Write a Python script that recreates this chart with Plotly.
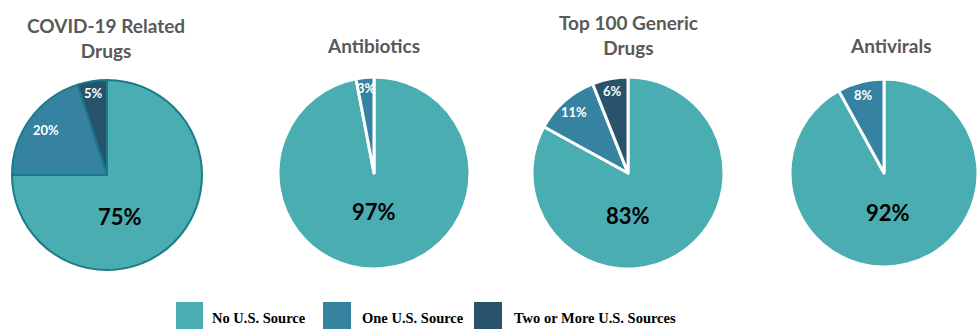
import math
import plotly.graph_objects as go

# ---------------- data ----------------
categories = ["No U.S. Source", "One U.S. Source", "Two or More U.S. Sources"]
chart_titles = ["COVID-19 Related<br>Drugs", "Antibiotics", "Top 100 Generic<br>Drugs", "Antivirals"]
covid_values = [75, 20, 5]
antibiotics_values = [97, 3]
generic_values = [83, 11, 6]
antiviral_values = [92, 8]

# ---------------- styles ----------------
W, H = 978, 329
colors = ["#4aadb1", "#3583a0", "#29536a"]
title_font = dict(family="Lato", size=19, color="#595959", weight="bold")
big_font = 22
small_font = 13

# pie geometry in pixels: (cx, cy, r)
geoms = [(107, 175, 95), (374, 173, 96), (628, 173, 96), (884, 173, 94)]
title_pos = [(106, 38), (373, 45), (628, 35), (891, 46)]
# offset of the large label from pie centre (pixels)
big_offsets = [(13, 41), (0, 38), (0, 42), (4, 40)]
line_styles = [dict(color="#1b7b88", width=2), dict(color="white", width=3),
               dict(color="white", width=3), dict(color="white", width=3)]

series = [covid_values, antibiotics_values, generic_values, antiviral_values]


def dom(cx, cy, r):
    return dict(x=[(cx - r) / W, (cx + r) / W], y=[1 - (cy + r) / H, 1 - (cy - r) / H])


fig = go.Figure()
annotations = []
for i, vals in enumerate(series):
    cx, cy, r = geoms[i]
    labs = categories[:len(vals)]
    # large slice label
    ox, oy = big_offsets[i]
    annotations.append(dict(x=(cx + ox) / W, y=1 - (cy + oy) / H, xref="paper", yref="paper",
                            xanchor="center", yanchor="middle",
                            text=f"{vals[0]}%", showarrow=False,
                            font=dict(family="Lato", size=big_font, color="black", weight="bold")))
    # smaller slice labels placed near the rim at the slice's mid angle
    total = sum(vals)
    for j in range(1, len(vals)):
        v = vals[j]
        start = sum(vals[:j])
        mid = (start + v / 2) / total * 2 * math.pi
        rad = (0.9 - 0.005 * v) * r
        px = cx + rad * math.sin(mid)
        py = cy - rad * math.cos(mid)
        annotations.append(dict(x=px / W, y=1 - py / H, xref="paper", yref="paper",
                                xanchor="center", yanchor="middle",
                                text=f"{v}%", showarrow=False,
                                font=dict(family="Lato", size=small_font, color="white", weight="bold")))
    fig.add_trace(go.Pie(
        labels=labs, values=vals, sort=False, direction="clockwise", rotation=0,
        marker=dict(colors=colors[:len(vals)], line=line_styles[i]),
        textinfo="none",
        domain=dom(cx, cy, r), showlegend=False, hoverinfo="label+percent",
    ))
    tx, ty = title_pos[i]
    annotations.append(dict(x=tx / W, y=1 - ty / H, xref="paper", yref="paper",
                            text=chart_titles[i], showarrow=False, xanchor="center", yanchor="middle",
                            font=title_font))

# ---------------- manual legend ----------------
legend_boxes = [(176, 203), (323, 351), (474, 502)]
legend_text_x = [210, 360, 512]
shapes = []
for k, cat in enumerate(categories):
    x0, x1 = legend_boxes[k]
    shapes.append(dict(type="rect", xref="paper", yref="paper", x0=x0 / W, x1=x1 / W,
                       y0=0, y1=1 - 302 / H, fillcolor=colors[k], line=dict(width=0)))
    annotations.append(dict(x=legend_text_x[k] / W, y=1 - 318 / H, xref="paper", yref="paper",
                            text=cat, showarrow=False, xanchor="left", yanchor="middle",
                            font=dict(family="Liberation Serif", size=14.5, color="black", weight="bold")))

fig.update_layout(width=W, height=H, margin=dict(l=0, r=0, t=0, b=0),
                  paper_bgcolor="white", plot_bgcolor="white",
                  annotations=annotations, shapes=shapes, showlegend=False)
fig.write_html("out.html")
